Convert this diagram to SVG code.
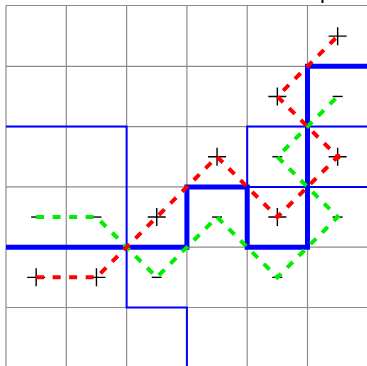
<svg xmlns="http://www.w3.org/2000/svg" width="367" height="366" viewBox="0 0 367 366">
<style>
.grid{stroke:#8c8c8c;stroke-width:1.2;fill:none}
.thin{stroke:#0000ff;stroke-width:2;fill:none}
.thick{stroke:#0000ff;stroke-width:5;fill:none;stroke-linejoin:miter}
.red{stroke:#ff0000;stroke-width:4;fill:none;stroke-dasharray:8 8.5}
.green{stroke:#00ee00;stroke-width:4;fill:none;stroke-dasharray:8 8.5}
.mk{stroke:#000;stroke-width:1.4;fill:none}
</style>
<defs>
<path id="plus" class="mk" d="M-9,0H9M0,-9V9"/>
<path id="minus" class="mk" d="M-5,0H5"/>
</defs>
<rect width="367" height="366" fill="#fff"/>
<g id="grid" class="grid">
<path d="M6,5.5V366M66.3,5.5V366M126.6,5.5V366M186.9,5.5V366M247.2,5.5V366M307.5,5.5V366"/>
<path d="M6,5.5H367M6,66.3H367M6,126.6H367M6,186.9H367M6,247.2H367M6,307.5H367"/>
</g>
<rect x="321.5" y="0" width="2" height="3" fill="#000"/>
<g id="blue-regions">
<path class="thin" d="M6,126.6H126.6V307.5H186.9V366"/>
<path class="thin" d="M367,126.6H247.2V186.9H367"/>
<path class="thick" d="M6,247.2H186.9V186.9H247.2V247.2H307.5V66.3H367"/>
</g>
<g id="markers">
<use href="#plus" x="36.15" y="277.35"/>
<use href="#plus" x="96.45" y="277.35"/>
<use href="#plus" x="156.75" y="217.05"/>
<use href="#plus" x="217.05" y="156.75"/>
<use href="#plus" x="277.35" y="217.05"/>
<use href="#plus" x="337.65" y="156.75"/>
<use href="#plus" x="277.35" y="96.45"/>
<use href="#plus" x="337.65" y="36.15"/>
<use href="#minus" x="36.15" y="217.05"/>
<use href="#minus" x="96.45" y="217.05"/>
<use href="#minus" x="156.75" y="277.35"/>
<use href="#minus" x="217.05" y="217.05"/>
<use href="#minus" x="277.35" y="277.35"/>
<use href="#minus" x="337.65" y="217.05"/>
<use href="#minus" x="277.35" y="156.75"/>
<use href="#minus" x="337.65" y="96.45"/>
</g>
<g id="connectors">
<path class="green" d="M36.15,217.05H96.45L156.75,277.35L217.05,217.05L277.35,277.35L337.65,217.05L277.35,156.75L337.65,96.45"/>
<path class="red" d="M36.15,277.35H96.45L217.05,156.75L277.35,217.05L337.65,156.75L277.35,96.45L337.65,36.15"/>
<circle cx="337.65" cy="156.75" r="3" fill="#ff0000"/>
</g>
</svg>
